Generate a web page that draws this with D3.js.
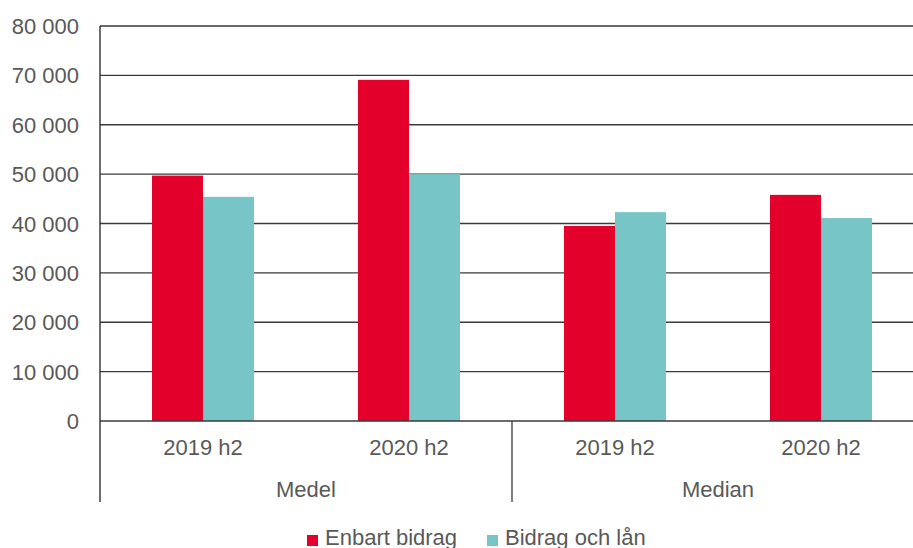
<!DOCTYPE html>
<html>
<head>
<meta charset="utf-8">
<script src="https://cdn.jsdelivr.net/npm/d3@7"></script>
<style>
  body { margin: 0; background: #fff; }
  svg { display: block; font-family: "Liberation Sans", Arial, sans-serif; }
</style>
</head>
<body>
<div id="chart"></div>
<script>
// chart data
var groups = ['Medel', 'Median'];
var periods = ['2019 h2', '2020 h2'];
var seriesNames = ['Enbart bidrag', 'Bidrag och lån'];
var enbartBidrag = [49700, 69100, 39500, 45800];
var bidragOchLan = [45400, 50000, 42300, 41100];
var yTicks = [0, 10000, 20000, 30000, 40000, 50000, 60000, 70000, 80000];

var colors = ['rgb(227, 0, 43)', 'rgb(120, 197, 200)'],
    textColor = '#595959';

var width = 913, height = 548,
    plotLeft = 100, plotRight = 924, plotTop = 26, plotBottom = 421;

var svg = d3.select('#chart')
            .append('svg')
            .attr('width', width)
            .attr('height', height);

// one row per bar group (group x period)
var rows = [];
groups.forEach(function (g, gi) {
    periods.forEach(function (p, pi) {
        var i = gi * periods.length + pi;
        rows.push({key: g + '|' + p, group: g, period: p,
                   values: [enbartBidrag[i], bidragOchLan[i]]});
    });
});

var x = d3.scaleBand()
          .domain(rows.map(function (d) { return d.key; }))
          .range([plotLeft, plotRight])
          .padding(0);

var xSub = d3.scaleBand()
             .domain(seriesNames)
             .range([0, x.bandwidth()])
             .paddingInner(0)
             .paddingOuter(1.02);

var y = d3.scaleLinear()
          .domain([0, 80000])
          .range([plotBottom, plotTop]);

var fmt = d3.formatLocale({decimal: ',', thousands: ' ', grouping: [3], currency: ['', '']}).format(',d');

// gridlines
svg.append('g')
   .selectAll('line')
   .data(yTicks.filter(function (d) { return d > 0; }))
   .enter()
   .append('line')
   .attr('x1', plotLeft)
   .attr('x2', width)
   .attr('y1', function (d) { return y(d); })
   .attr('y2', function (d) { return y(d); })
   .attr('stroke', '#3a3a3a')
   .attr('stroke-width', 1.3);

// y tick labels
svg.append('g')
   .selectAll('text')
   .data(yTicks)
   .enter()
   .append('text')
   .attr('x', 79)
   .attr('y', function (d) { return y(d) + 8; })
   .attr('text-anchor', 'end')
   .attr('font-size', 22)
   .attr('fill', textColor)
   .text(function (d) { return fmt(d); });

// bars
var bars = svg.append('g')
              .selectAll('g')
              .data(rows)
              .enter()
              .append('g')
              .attr('transform', function (d) { return 'translate(' + x(d.key) + ',0)'; });

bars.selectAll('rect')
    .data(function (d) { return d.values.map(function (v, i) { return {name: seriesNames[i], value: v, i: i}; }); })
    .enter()
    .append('rect')
    .attr('x', function (d) { return xSub(d.name); })
    .attr('width', xSub.bandwidth())
    .attr('y', function (d) { return y(d.value); })
    .attr('height', function (d) { return plotBottom - y(d.value); })
    .attr('fill', function (d) { return colors[d.i]; });

// axes lines
svg.append('line')
   .attr('x1', plotLeft).attr('x2', width)
   .attr('y1', plotBottom).attr('y2', plotBottom)
   .attr('stroke', '#3a3a3a').attr('stroke-width', 1.3);

var groupEdge = x(rows[2].key);
svg.append('line')
   .attr('x1', plotLeft).attr('x2', plotLeft)
   .attr('y1', plotTop).attr('y2', 502)
   .attr('stroke', '#222').attr('stroke-width', 1.3);
svg.append('line')
   .attr('x1', groupEdge).attr('x2', groupEdge)
   .attr('y1', plotBottom).attr('y2', 502)
   .attr('stroke', '#3a3a3a').attr('stroke-width', 1.3);

// period labels
svg.append('g')
   .selectAll('text')
   .data(rows)
   .enter()
   .append('text')
   .attr('x', function (d) { return x(d.key) + x.bandwidth() / 2; })
   .attr('y', 455)
   .attr('text-anchor', 'middle')
   .attr('font-size', 22)
   .attr('fill', textColor)
   .text(function (d) { return d.period; });

// group labels
svg.append('g')
   .selectAll('text')
   .data(groups)
   .enter()
   .append('text')
   .attr('x', function (d, i) { return x(rows[i * 2].key) + x.bandwidth(); })
   .attr('y', 497)
   .attr('text-anchor', 'middle')
   .attr('font-size', 22)
   .attr('fill', textColor)
   .text(function (d) { return d; });

// legend
var legendX = [307, 487];
var legend = svg.append('g')
                .selectAll('g')
                .data(seriesNames)
                .enter()
                .append('g')
                .attr('transform', function (d, i) { return 'translate(' + legendX[i] + ',535)'; });
legend.append('rect')
      .attr('width', 11)
      .attr('height', 11)
      .attr('fill', function (d, i) { return colors[i]; });
legend.append('text')
      .attr('x', 18)
      .attr('y', 10)
      .attr('font-size', 22)
      .attr('fill', textColor)
      .text(function (d) { return d; });
</script>
</body>
</html>
